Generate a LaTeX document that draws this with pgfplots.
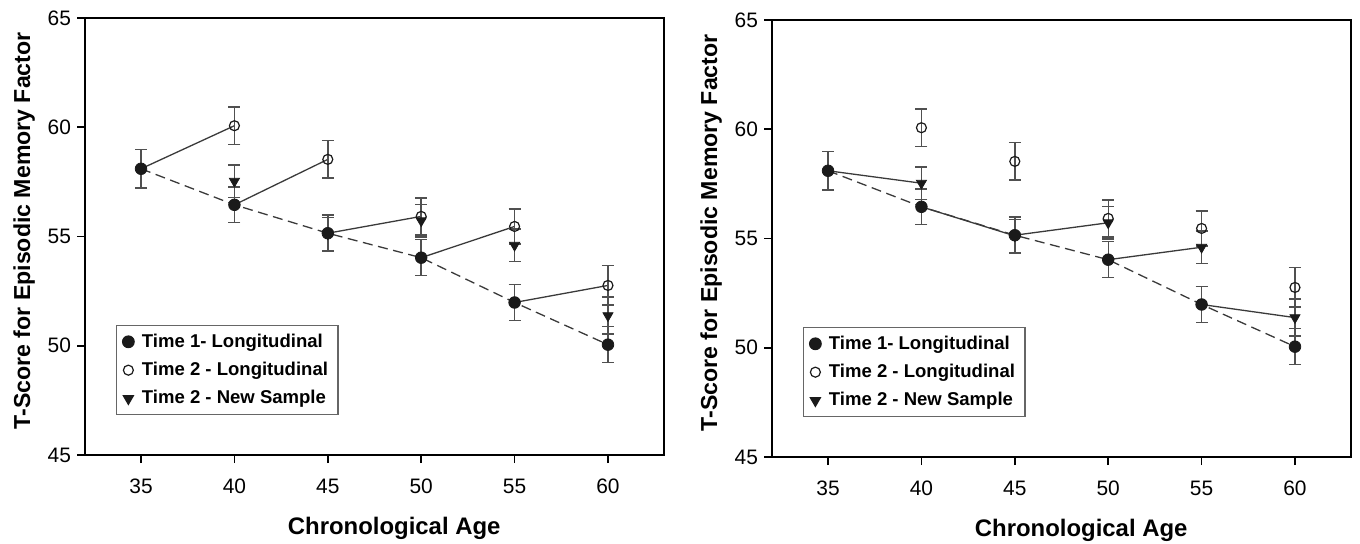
\documentclass[border=0pt]{standalone}
\usepackage{fontspec}
\setmainfont{Liberation Sans}
\usepackage{pgfplots}
\usepackage{pgfplotstable}
\pgfplotsset{compat=1.18}

\definecolor{lncol}{HTML}{3A3A3A}
\definecolor{errcol}{HTML}{505050}
\definecolor{mkcol}{HTML}{1A1A1A}

% Time 1 - Longitudinal
\pgfplotstableread{
age mean err
35 58.10 0.88
40 56.45 0.82
45 55.15 0.84
50 54.03 0.82
55 51.98 0.83
60 50.05 0.83
}\timeone
% Time 2 - Longitudinal
\pgfplotstableread{
age mean err
40 60.07 0.85
45 58.53 0.85
50 55.92 0.85
55 55.46 0.80
60 52.76 0.90
}\timetwo
% Time 2 - New Sample
\pgfplotstableread{
age mean err
40 57.53 0.75
45 55.12 0.75
50 55.72 0.75
55 54.60 0.75
60 51.38 0.85
}\newsample

\pgfplotsset{
  panel/.style={
    scale only axis, width=289.5bp, height=218.5bp,
    xmin=32, xmax=63, ymin=45, ymax=65,
    xtick={35,40,...,60}, ytick={45,50,...,65},
    tick align=outside, tick pos=left, major tick length=4bp,
    axis line style={line width=1bp},
    tick style={line width=0.8bp, black},
    ticklabel style={font=\fontsize{10.5}{12}\selectfont},
    xticklabel style={yshift=-4.5bp},
    yticklabel style={xshift=0.5bp},
    /pgf/number format/assume math mode=true,
    xlabel={Chronological Age},
    ylabel={T-Score for Episodic Memory Factor},
    every axis x label/.style={at={(axis description cs:0.534,-0.181)}, anchor=base,
      font=\fontsize{12}{14}\selectfont\bfseries},
    every axis y label/.style={at={(axis description cs:-0.105,0.513)}, anchor=center,
      rotate=90, font=\fontsize{11.6}{14}\selectfont\bfseries},
    legend cell align=left,
    legend style={at={(0.0535,0.2975)}, anchor=north west, draw=black!60,
      line width=0.6bp, font=\fontsize{9.3}{11}\selectfont\bfseries,
      row sep=2bp, inner xsep=3bp, inner ysep=2bp},
  },
  errs/.style={
    /pgfplots/error bars/y dir=both, /pgfplots/error bars/y explicit,
    /pgfplots/error bars/error bar style={errcol, line width=0.7bp},
    /pgfplots/error bars/error mark options={rotate=90, errcol, line width=0.7bp, mark size=3bp}},
  lgimg/.style={legend image code/.code={%
    \draw[##1] plot coordinates {(1.5bp,0bp)};
    \path (0bp,0bp) (6bp,0bp);}},
  mfill/.style={only marks, mark=*, mark size=2.9bp, mark options={fill=mkcol, draw=mkcol}, lgimg},
  mopen/.style={only marks, mark=o, mark size=2.5bp, mark options={fill=white, draw=mkcol, line width=0.6bp}, lgimg},
  mtri/.style={only marks, mark=triangle*, mark size=2.9bp, mark options={rotate=180, fill=mkcol, draw=mkcol}, lgimg},
  seg/.style={lncol, line width=0.65bp, no marks, forget plot},
  dash/.style={lncol, line width=0.65bp, no marks, forget plot, dash pattern=on 5bp off 2.8bp},
}

\begin{document}
\begin{tikzpicture}
% left panel: follow-up of the longitudinal sample
\begin{axis}[panel, at={(42.5bp,44.5bp)}, anchor=south west]
\addlegendimage{mfill}\addlegendentry{Time 1- Longitudinal}
\addlegendimage{mopen}\addlegendentry{Time 2 - Longitudinal}
\addlegendimage{mtri}\addlegendentry{Time 2 - New Sample}
\addplot[dash] table[x=age, y=mean] {\timeone};
\addplot[seg] coordinates {(35,58.10) (40,60.07)};
\addplot[seg] coordinates {(40,56.45) (45,58.53)};
\addplot[seg] coordinates {(45,55.15) (50,55.92)};
\addplot[seg] coordinates {(50,54.03) (55,55.46)};
\addplot[seg] coordinates {(55,51.98) (60,52.76)};
\addplot[mtri, forget plot, errs] table[x=age, y=mean, y error=err] {\newsample};
\addplot[mopen, forget plot, errs] table[x=age, y=mean, y error=err] {\timetwo};
\addplot[mfill, forget plot, errs] table[x=age, y=mean, y error=err] {\timeone};
\end{axis}
% right panel: follow-up of the new sample
\begin{axis}[panel, at={(386bp,43.5bp)}, anchor=south west]
\addlegendimage{mfill}\addlegendentry{Time 1- Longitudinal}
\addlegendimage{mopen}\addlegendentry{Time 2 - Longitudinal}
\addlegendimage{mtri}\addlegendentry{Time 2 - New Sample}
\addplot[dash] table[x=age, y=mean] {\timeone};
\addplot[seg] coordinates {(35,58.10) (40,57.53)};
\addplot[seg] coordinates {(40,56.45) (45,55.12)};
\addplot[seg] coordinates {(45,55.15) (50,55.72)};
\addplot[seg] coordinates {(50,54.03) (55,54.60)};
\addplot[seg] coordinates {(55,51.98) (60,51.38)};
\addplot[mtri, forget plot, errs] table[x=age, y=mean, y error=err] {\newsample};
\addplot[mopen, forget plot, errs] table[x=age, y=mean, y error=err] {\timetwo};
\addplot[mfill, forget plot, errs] table[x=age, y=mean, y error=err] {\timeone};
\end{axis}
\pgfresetboundingbox
\useasboundingbox (0,0) rectangle (680bp,272bp);
\end{tikzpicture}
\end{document}
